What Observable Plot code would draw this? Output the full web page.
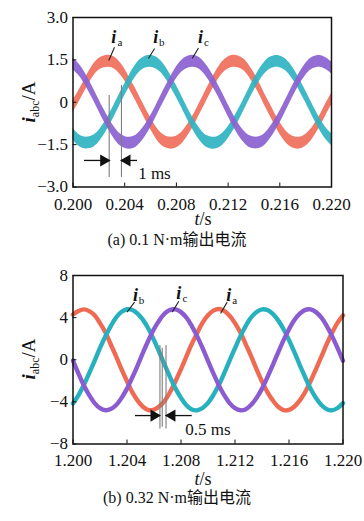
<!DOCTYPE html>
<html><head><meta charset="utf-8">
<script src="https://cdn.jsdelivr.net/npm/d3@7"></script>
<script src="https://cdn.jsdelivr.net/npm/@observablehq/plot@0.6"></script>
<style>
body{margin:0;background:#fff;width:364px;overflow:hidden;}
.cap{width:354px;padding-right:10px;text-align:center;font-family:"Liberation Serif","Noto Sans CJK SC",serif;font-size:16px;color:#111;}
#capA{line-height:24px;height:24px;}
#capB{line-height:20px;height:20px;}
svg{display:block;}
</style></head><body>
<div id="chartA"></div><div class="cap" id="capA">(a) 0.1 N·m输出电流</div>
<div id="chartB"></div><div class="cap" id="capB">(b) 0.32 N·m输出电流</div>
<script>
// ---------- chart (a) ----------
const timeA = [0.2000,0.2004,0.2008,0.2012,0.2016,0.2020,0.2024,0.2028,0.2032,0.2036,
0.2040,0.2044,0.2048,0.2052,0.2056,0.2060,0.2064,0.2068,0.2072,0.2076,
0.2080,0.2084,0.2088,0.2092,0.2096,0.2100,0.2104,0.2108,0.2112,0.2116,
0.2120,0.2124,0.2128,0.2132,0.2136,0.2140,0.2144,0.2148,0.2152,0.2156,
0.2160,0.2164,0.2168,0.2172,0.2176,0.2180,0.2184,0.2188,0.2192,0.2196,0.2200];
const iaA = [-0.15,0.16,0.50,0.85,1.14,1.34,1.43,1.45,1.39,1.22,
0.97,0.64,0.31,-0.05,-0.41,-0.75,-1.06,-1.29,-1.41,-1.45,
-1.41,-1.28,-1.04,-0.75,-0.41,-0.05,0.32,0.67,0.99,1.24,
1.39,1.45,1.43,1.33,1.12,0.83,0.50,0.12,-0.23,-0.59,
-0.92,-1.18,-1.36,-1.44,-1.44,-1.35,-1.17,-0.90,-0.59,-0.23,0.10];
const ibA = [-1.12,-1.33,-1.43,-1.44,-1.38,-1.21,-0.95,-0.64,-0.29,0.08,
0.44,0.78,1.08,1.30,1.42,1.45,1.40,1.26,1.02,0.71,
0.38,0.02,-0.35,-0.70,-1.01,-1.25,-1.40,-1.45,-1.42,-1.30,
-1.08,-0.80,-0.47,-0.11,0.26,0.62,0.94,1.20,1.37,1.44,
1.43,1.34,1.15,0.88,0.55,0.20,-0.17,-0.53,-0.86,-1.13,-1.32];
const icA = [1.36,1.18,0.93,0.61,0.26,-0.11,-0.47,-0.80,-1.09,-1.31,
-1.42,-1.45,-1.40,-1.24,-1.00,-0.70,-0.35,0.02,0.38,0.73,
1.04,1.27,1.40,1.45,1.42,1.29,1.06,0.77,0.44,0.08,
-0.29,-0.64,-0.96,-1.21,-1.38,-1.44,-1.43,-1.33,-1.12,-0.85,
-0.53,-0.17,0.20,0.56,0.89,1.16,1.35,1.43,1.44,1.36,1.22];
const xTicksA = [0.200,0.204,0.208,0.212,0.216,0.220];
const yTicksA = [3,1.5,0,-1.5,-3];
const yTickLabelsA = ["3.0","1.5","0","\u22121.5","\u22123.0"];
// annotations (a)
const phaseNames = ["a","b","c"];
const labelXA = [0.20316,0.20640,0.20986];
const labelYA = [2.30,2.30,2.30];
const leaderA = [[0.20277,1.48,0.20321,1.95],[0.20584,1.55,0.20631,1.90],[0.20922,1.55,0.20971,1.92]];
const markLinesA = [[0.20280,0.24,-2.66],[0.20375,0.59,-2.66]];
const arrowShaftA = [[0.20089,0.20280,-2.06],[0.20375,0.20499,-2.06]];
const arrowHeadA = [[0.202375,-2.06,90],[0.20418,-2.06,-90]];
const msTextA = [[0.20630,-2.52,"1 ms"]];

// ---------- chart (b) ----------
const timeB = [1.2000,1.2004,1.2008,1.2012,1.2016,1.2020,1.2024,1.2028,1.2032,1.2036,
1.2040,1.2044,1.2048,1.2052,1.2056,1.2060,1.2064,1.2068,1.2072,1.2076,
1.2080,1.2084,1.2088,1.2092,1.2096,1.2100,1.2104,1.2108,1.2112,1.2116,
1.2120,1.2124,1.2128,1.2132,1.2136,1.2140,1.2144,1.2148,1.2152,1.2156,
1.2160,1.2164,1.2168,1.2172,1.2176,1.2180,1.2184,1.2188,1.2192,1.2196,1.2200];
const iaB = [4.30,4.62,4.78,4.62,4.22,3.48,2.60,1.45,0.30,-0.92,
-2.04,-3.10,-3.90,-4.48,-4.78,-4.74,-4.42,-3.88,-3.04,-2.02,
-0.90,0.32,1.50,2.55,3.52,4.22,4.66,4.82,4.64,4.18,
3.48,2.58,1.46,0.32,-0.92,-2.06,-3.08,-3.86,-4.46,-4.78,
-4.76,-4.44,-3.86,-3.06,-2.02,-0.88,0.30,1.50,2.58,3.52,4.22];
const ibB = [-4.14,-3.38,-2.40,-1.27,-0.10,1.12,2.24,3.20,4.02,4.55,
4.80,4.72,4.36,3.76,2.92,1.86,0.70,-0.52,-1.68,-2.74,
-3.62,-4.32,-4.72,-4.80,-4.58,-4.10,-3.34,-2.40,-1.28,-0.08,
1.10,2.24,3.22,4.02,4.54,4.78,4.72,4.36,3.74,2.90,
1.86,0.72,-0.50,-1.66,-2.76,-3.64,-4.30,-4.70,-4.80,-4.58,-4.12];
const icB = [-0.08,-1.30,-2.42,-3.36,-4.12,-4.60,-4.80,-4.68,-4.30,-3.62,
-2.74,-1.66,-0.50,0.72,1.88,2.92,3.76,4.40,4.74,4.78,
4.52,4.00,3.20,2.22,1.10,-0.10,-1.30,-2.42,-3.36,-4.12,
-4.60,-4.80,-4.70,-4.28,-3.62,-2.74,-1.66,-0.50,0.70,1.86,
2.90,3.78,4.38,4.74,4.78,4.52,4.00,3.20,2.22,1.10,-0.10];
const xTicksB = [1.200,1.204,1.208,1.212,1.216,1.220];
const yTicksB = [8,4,0,-4,-8];
const yTickLabelsB = ["8","4","0","\u22124","\u22128"];
const labelXB = [1.21154,1.20463,1.20784];
const labelYB = [6.10,6.10,6.29];
const leaderB = [[1.21093,4.39,1.21142,5.47],[1.20401,4.52,1.20456,5.47],[1.20735,4.52,1.20784,5.56]];
const markLinesB = [[1.20644,1.36,-6.58],[1.20661,1.10,-6.40],[1.20689,1.36,-6.58]];
const arrowShaftB = [[1.20463,1.20644,-5.30],[1.20689,1.20883,-5.30]];
const arrowHeadB = [[1.20600,-5.30,90],[1.20733,-5.30,-90]];
const msTextB = [[1.21000,-6.62,"0.5 ms"]];

const colorsA = {a:"#ef6f5a", b:"#2fb3c1", c:"#8b61d0"};
const colorsB = {a:"#ef6a52", b:"#27b1bf", c:"#8a5cd0"};
const FONT = "'Liberation Serif','Times New Roman',serif";

function rows(t, a, b, c) {
  return [a, b, c].map((arr, j) => t.map((x, i) => ({t: x, v: arr[i], s: phaseNames[j]})));
}

function annotations(o) {
  const {leaders, labX, labY, lines, shafts, heads, msText} = o;
  return [
    Plot.ruleX(lines, {x: d => d[0], y1: d => d[1], y2: d => d[2], stroke: "#7d7d7d", strokeWidth: 1.1}),
    Plot.ruleY(shafts, {y: d => d[2], x1: d => d[0], x2: d => d[1], stroke: "#111", strokeWidth: 1.3}),
    Plot.dot(heads, {x: d => d[0], y: d => d[1], rotate: d => d[2], symbol: "triangle", r: 4.5, fill: "#111", stroke: "none"}),
    Plot.text(msText, {x: d => d[0], y: d => d[1], text: d => d[2], fontSize: 17, fill: "#111"}),
    Plot.link(leaders, {x1: d => d[0], y1: d => d[1], x2: d => d[2], y2: d => d[3], stroke: "#222", strokeWidth: 1.1}),
    Plot.text(phaseNames, {x: (d, i) => labX[i], y: (d, i) => labY[i], text: () => "i", fontStyle: "italic", fontWeight: "bold", fontSize: 18, fill: "#111"}),
    Plot.text(phaseNames, {x: (d, i) => labX[i], y: (d, i) => labY[i], text: d => d, fontSize: 11, dx: 6, dy: 5, fill: "#111"})
  ];
}

function axes(xt, yt, ylab, xdigits, xpad) {
  return [
    Plot.frame({stroke: "#111", strokeWidth: 1.5}),
    Plot.axisX({ticks: xt, tickSize: 0, tickPadding: xpad, tickFormat: d => d.toFixed(xdigits), label: null, fontSize: 17}),
    Plot.axisX({ticks: xt, tickSize: -4, tickFormat: () => "", label: null}),
    Plot.axisY({ticks: yt, tickSize: 0, tickPadding: 5, tickFormat: d => ylab[yt.indexOf(d)], label: null, fontSize: 17, dy: 0}),
    Plot.axisY({ticks: yt, tickSize: -4, tickFormat: () => "", label: null})
  ];
}

function addLabels(svg, cy, xcx, xcy) {
  const s = d3.select(svg);
  const t = s.append("text").attr("transform", `translate(35,${cy}) rotate(-90)`)
    .attr("text-anchor", "middle").attr("font-family", FONT).attr("font-size", 19).attr("fill", "#111");
  t.append("tspan").attr("font-style", "italic").attr("font-weight", "bold").text("i");
  t.append("tspan").attr("font-size", 12).attr("dy", 4).text("abc");
  t.append("tspan").attr("dy", -4).text("/A");
  const u = s.append("text").attr("x", xcx).attr("y", xcy).attr("text-anchor", "middle")
    .attr("font-family", FONT).attr("font-size", 18).attr("fill", "#111");
  u.append("tspan").attr("font-style", "italic").text("t");
  u.append("tspan").text("/s");
}

// chart A
const dataA = rows(timeA, iaA, ibA, icA);
const chartA = Plot.plot({
  width: 364, height: 228,
  marginLeft: 72.5, marginRight: 33, marginTop: 17, marginBottom: 41.5,
  x: {domain: [0.200, 0.220]}, y: {domain: [-3, 3]},
  style: {fontFamily: FONT, fontSize: "17px", color: "#111", background: "#fff"},
  marks: [
    ...dataA.map(d => Plot.areaY(d, {x: "t", y1: r => r.v - 0.21, y2: r => r.v + 0.21, fill: colorsA[d[0].s], fillOpacity: 0.92, curve: "catmull-rom"})),
    ...annotations({leaders: leaderA, labX: labelXA, labY: labelYA, lines: markLinesA, shafts: arrowShaftA, heads: arrowHeadA, msText: msTextA}),
    ...axes(xTicksA, yTicksA, yTickLabelsA, 3, 11)
  ]
});
document.getElementById("chartA").appendChild(chartA);
addLabels(chartA, 102, 203, 225);

// chart B
const dataB = rows(timeB, iaB, ibB, icB);
const chartB = Plot.plot({
  width: 364, height: 236,
  marginLeft: 72.5, marginRight: 21.5, marginTop: 23, marginBottom: 44.5,
  x: {domain: [1.200, 1.220]}, y: {domain: [-8, 8]},
  style: {fontFamily: FONT, fontSize: "17px", color: "#111", background: "#fff"},
  marks: [
    ...dataB.map(d => Plot.line(d, {x: "t", y: "v", stroke: colorsB[d[0].s], strokeWidth: 4.4, curve: "catmull-rom"})),
    ...annotations({leaders: leaderB, labX: labelXB, labY: labelYB, lines: markLinesB, shafts: arrowShaftB, heads: arrowHeadB, msText: msTextB}),
    ...axes(xTicksB, yTicksB, yTickLabelsB, 3, 10)
  ]
});
document.getElementById("chartB").appendChild(chartB);
addLabels(chartB, 107, 203, 233);
</script>
</body></html>
